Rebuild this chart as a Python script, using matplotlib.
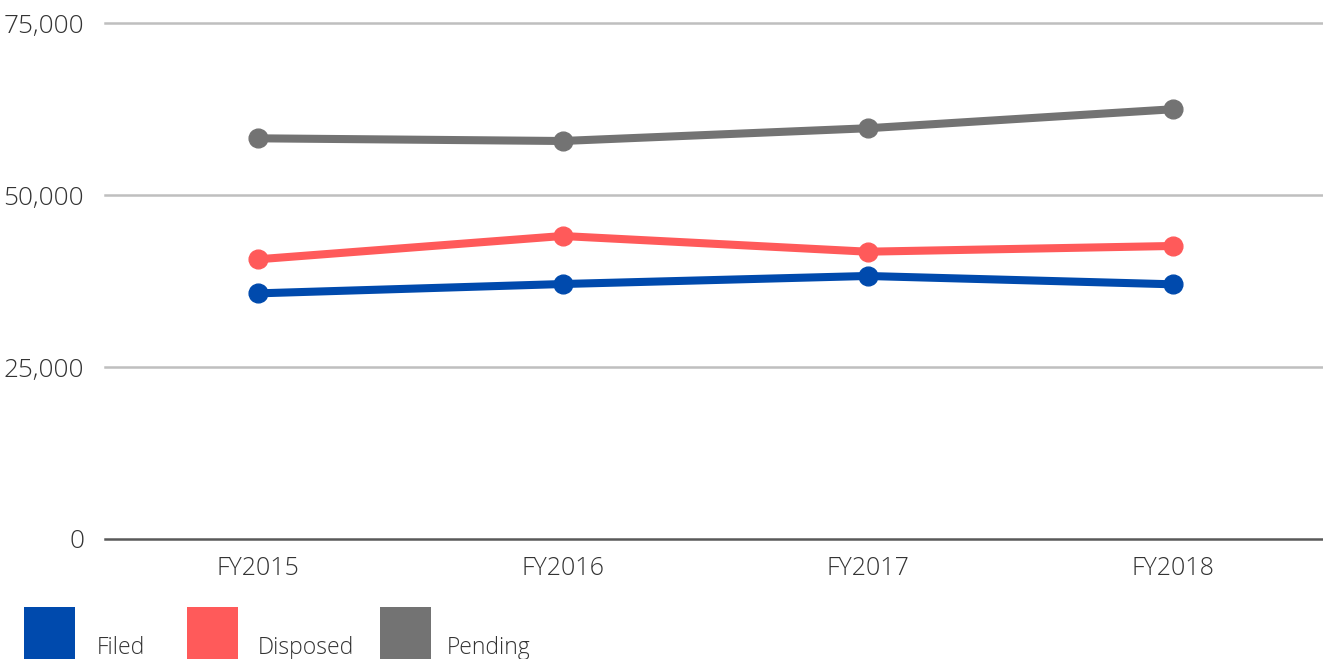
import matplotlib
matplotlib.use("Agg")
import matplotlib.pyplot as plt
from matplotlib.patches import Rectangle
from matplotlib.ticker import FuncFormatter

categories = ["FY2015", "FY2016", "FY2017", "FY2018"]
filed = [35700, 37060, 38230, 37020]
disposed = [40650, 44040, 41760, 42590]
pending = [58240, 57850, 59700, 62460]
series_names = ["Filed", "Disposed", "Pending"]
colors = ["#004AAD", "#FF5A5A", "#737373"]
yticks = [0, 25000, 50000, 75000]

plt.rcParams['font.family'] = ['Open Sans', 'DejaVu Sans']
plt.rcParams['font.weight'] = 'light'

fig = plt.figure(figsize=(13.23, 6.59), dpi=100)
ax = fig.add_axes([105/1323, 120/659, 1220/1323, 516/659])

x = list(range(len(categories)))
for vals, c in zip([filed, disposed, pending], colors):
    ax.plot(x, vals, color=c, lw=5.8, marker='o', markersize=13.5,
            solid_capstyle='round', zorder=3)

ax.set_xlim(-0.5, len(categories) - 0.5)
ax.set_ylim(0, 75000)
ax.set_yticks(yticks)
ax.yaxis.set_major_formatter(FuncFormatter(lambda v, p: f"{int(v):,}"))
ax.set_xticks(x)
ax.set_xticklabels(categories)
ax.tick_params(axis='both', length=0, labelcolor='#333333')
ax.tick_params(axis='y', pad=15, labelsize=18.8)
ax.tick_params(axis='x', pad=12, labelsize=18)
for lbl in ax.get_xticklabels() + ax.get_yticklabels():
    lbl.set_fontweight('light')
for t in yticks[1:]:
    ax.axhline(t, color='#BFBFBF', lw=1.8, zorder=1, clip_on=False)
ax.axhline(0, color='#595959', lw=1.8, zorder=2, clip_on=False)
for s in ax.spines.values():
    s.set_visible(False)

# legend
leg_sq_x = [24, 187, 380]
leg_tx_x = [97, 258, 447]
for name, c, sx, tx in zip(series_names, colors, leg_sq_x, leg_tx_x):
    fig.add_artist(Rectangle((sx/1323, 0), 51/1323, 52/659,
                             transform=fig.transFigure, color=c, lw=0))
    fig.text(tx/1323, 11/659, name, fontsize=16.5, color='#333333',
             ha='left', va='center', fontweight='light')

fig.savefig("out.png", dpi=100)
